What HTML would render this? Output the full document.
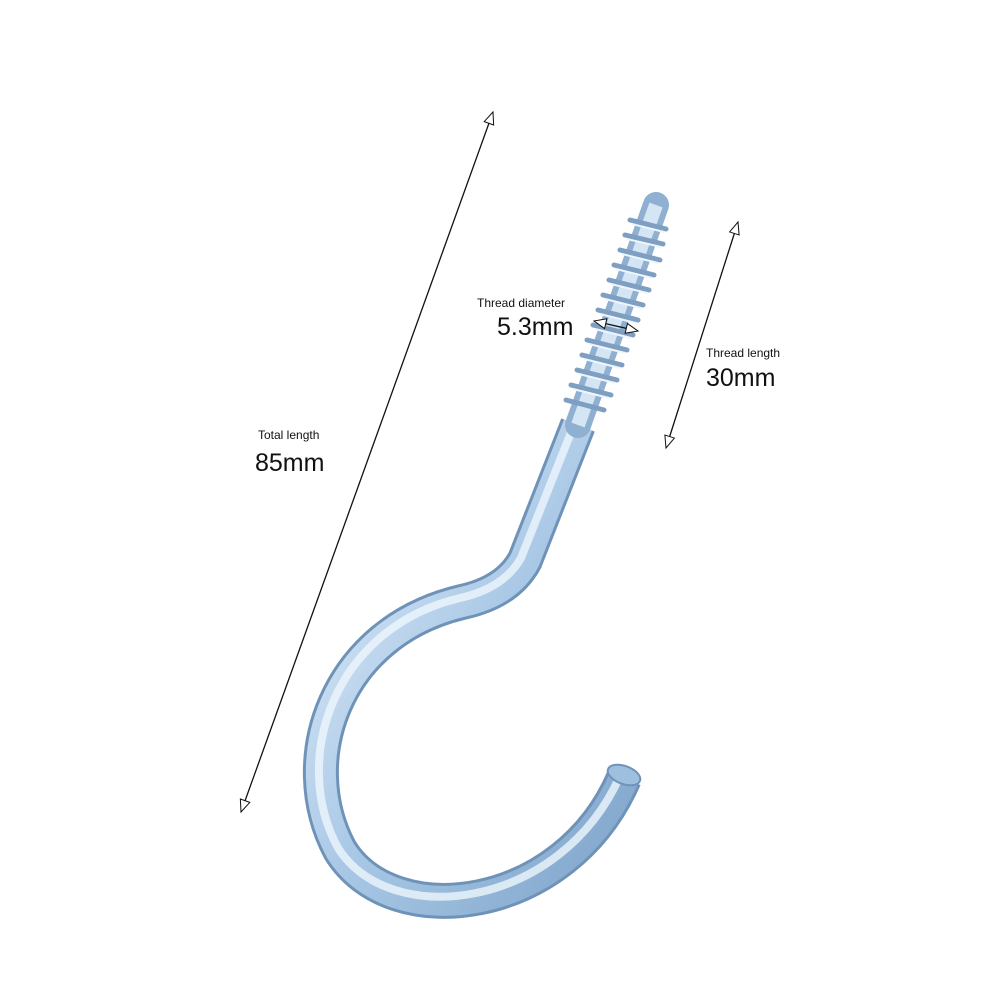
<!DOCTYPE html>
<html><head><meta charset="utf-8"><style>
html,body{margin:0;padding:0;background:#fff;}
svg{display:block}
text{font-family:"Liberation Sans",Arial,sans-serif;fill:#111}
</style></head><body>
<svg width="1000" height="1000" viewBox="0 0 1000 1000" xmlns="http://www.w3.org/2000/svg">
<defs>
<marker id="ah" markerWidth="16" markerHeight="12" refX="13" refY="6" orient="auto-start-reverse" markerUnits="userSpaceOnUse">
<path d="M1,1 L13,6 L1,11 Z" fill="#fff" stroke="#111" stroke-width="1"/>
</marker>
<linearGradient id="g" x1="0" y1="0" x2="1" y2="1">
<stop offset="0" stop-color="#e8f2fb"/><stop offset="0.5" stop-color="#a9c8e6"/><stop offset="1" stop-color="#7ea4c9"/>
</linearGradient>
</defs>
<path d="M578,425 L525,560 Q508,592 462,602 C335,632 292,760 340,850 C392,935 565,915 624,778" fill="none" stroke="#6f93b8" stroke-width="36"/>
<path d="M578,425 L525,560 Q508,592 462,602 C335,632 292,760 340,850 C392,935 565,915 624,778" fill="none" stroke="url(#g)" stroke-width="30"/>
<path d="M574,425 L521,558 Q504,588 460,598 C333,628 290,760 338,848 C390,930 560,910 620,776" fill="none" stroke="#eef6fd" stroke-width="8" opacity="0.8"/>
<ellipse cx="624" cy="775" rx="17" ry="9" transform="rotate(20 624 775)" fill="#9fbfdf" stroke="#6f93b8" stroke-width="2"/>
<path d="M656,205 L578,425" stroke="#8fb0d0" stroke-width="26" stroke-linecap="round"/>
<path d="M656,205 L578,425" stroke="#d4e5f4" stroke-width="14"/>
<g stroke="#7e9fc2" stroke-width="5" fill="none" stroke-linecap="round">
<path d="M630,220 l36,9"/><path d="M625,235 l38,9"/><path d="M620,250 l40,10"/><path d="M614,265 l40,10"/>
<path d="M609,280 l40,10"/><path d="M603,295 l40,10"/><path d="M598,310 l40,10"/><path d="M593,325 l40,10"/>
<path d="M587,340 l40,10"/><path d="M582,355 l40,10"/><path d="M577,370 l40,10"/><path d="M571,385 l40,10"/>
<path d="M566,400 l38,10"/>
</g>
<g stroke="#eef5fc" stroke-width="2" fill="none">
<path d="M632,224 l32,8"/><path d="M627,239 l34,8"/><path d="M622,254 l36,9"/><path d="M616,269 l36,9"/>
<path d="M611,284 l36,9"/><path d="M605,299 l36,9"/><path d="M600,314 l36,9"/><path d="M595,329 l36,9"/>
<path d="M589,344 l36,9"/><path d="M584,359 l36,9"/><path d="M579,374 l36,9"/><path d="M573,389 l36,9"/>
</g>
<line x1="241" y1="812" x2="493" y2="112" stroke="#111" stroke-width="1.3" marker-start="url(#ah)" marker-end="url(#ah)"/>
<line x1="666" y1="448" x2="738" y2="222" stroke="#111" stroke-width="1.3" marker-start="url(#ah)" marker-end="url(#ah)"/>
<line x1="594" y1="321" x2="638" y2="331" stroke="#111" stroke-width="1.3" marker-start="url(#ah)" marker-end="url(#ah)"/>
<text x="258" y="439" font-size="12">Total length</text>
<text x="255" y="471" font-size="25">85mm</text>
<text x="477" y="307" font-size="12">Thread diameter</text>
<text x="497" y="335" font-size="25">5.3mm</text>
<text x="706" y="357" font-size="12">Thread length</text>
<text x="706" y="386" font-size="25">30mm</text>
</svg>
</body></html>
